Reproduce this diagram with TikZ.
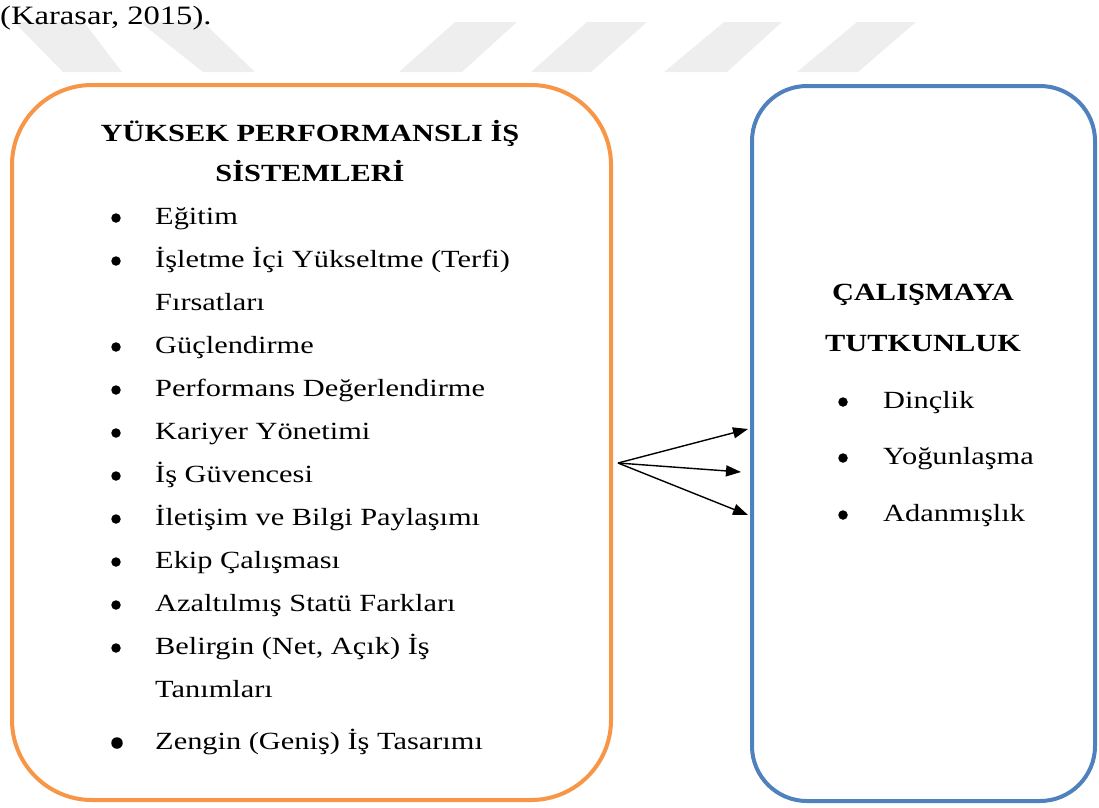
\documentclass[tikz,border=0pt]{standalone}
\usepackage{fontspec}
\setmainfont{Liberation Serif}[FakeStretch=1.23]
\usetikzlibrary{arrows.meta,positioning}
\definecolor{BoxOrange}{HTML}{F79646}
\definecolor{BoxBlue}{HTML}{4F81BD}
\definecolor{MarkGray}{HTML}{EEEEEE}
\newcommand{\twoline}[2]{\begin{tabular}[t]{@{}l@{}}#1\\#2\end{tabular}}

\begin{document}
\begin{tikzpicture}[
    x=1pt, y=-1pt,
    box/.style={rectangle,line width=4pt,inner sep=0pt},
    bul/.style={circle,fill=black,inner sep=0pt,minimum size=9.5pt},
    itm/.style={anchor=base west,inner sep=0pt,font=\fontsize{24.7}{43}\selectfont},
    ttl/.style={anchor=base,align=center,inner sep=0pt,font=\fontsize{24.7}{40}\selectfont\bfseries},
    wm/.style={fill=MarkGray},
    >={Triangle[length=15pt,width=11pt]},
  ]
  \useasboundingbox (0,0) rectangle (1099,807);
  % watermark stripes
  \fill[wm] (14,22) -- (84,22) -- (122,72) -- (63,72) -- cycle;
  \fill[wm] (140,22) -- (203,22) -- (255,72) -- (203,72) -- cycle;
  \fill[wm] (455,22) -- (517,22) -- (462,72) -- (399,72) -- cycle;
  \fill[wm] (587,22) -- (647,22) -- (591,72) -- (531,72) -- cycle;
  \fill[wm] (724,22) -- (782,22) -- (727,72) -- (664,72) -- cycle;
  \fill[wm] (857,22) -- (916,22) -- (858,72) -- (797,72) -- cycle;
  \node[itm,font=\fontsize{26.5}{30}\selectfont] (ref) at (0,24) {(Karasar, 2015).};
  % Left box - high performance work systems
  \node[box,draw=BoxOrange,rounded corners=80pt,minimum width=599pt,minimum height=715pt] (hpws) at (311.5,442.5) {};
  \node[ttl] (hpwsT) at (310,181) {YÜKSEK PERFORMANSLI İŞ\\SİSTEMLERİ};
  \node[bul] (b1) at (116,218) {};  \node[itm] (i1) at (155,224) {Eğitim};
  \node[bul] (b2) at (116,261) {};  \node[itm] (i2) at (155,267) {\twoline{İşletme İçi Yükseltme (Terfi)}{Fırsatları}};
  \node[bul] (b3) at (116,347) {};  \node[itm] (i3) at (155,353) {Güçlendirme};
  \node[bul] (b4) at (116,390) {};  \node[itm] (i4) at (155,396) {Performans Değerlendirme};
  \node[bul] (b5) at (116,433) {};  \node[itm] (i5) at (155,439) {Kariyer Yönetimi};
  \node[bul] (b6) at (116,476) {};  \node[itm] (i6) at (155,482) {İş Güvencesi};
  \node[bul] (b7) at (116,519) {};  \node[itm] (i7) at (155,525) {İletişim ve Bilgi Paylaşımı};
  \node[bul] (b8) at (116,562) {};  \node[itm] (i8) at (155,568) {Ekip Çalışması};
  \node[bul] (b9) at (116,605) {};  \node[itm] (i9) at (155,611) {Azaltılmış Statü Farkları};
  \node[bul] (b10) at (116,648) {}; \node[itm] (i10) at (155,654) {\twoline{Belirgin (Net, Açık) İş}{Tanımları}};
  \node[bul,minimum size=11.5pt] (b11) at (117,743) {}; \node[itm] (i11) at (155,749) {Zengin (Geniş) İş Tasarımı};
  % Right box - work engagement
  \node[box,draw=BoxBlue,rounded corners=55pt,minimum width=343pt,minimum height=715pt] (tutku) at (923.5,443.5) {};
  \node[ttl,font=\fontsize{24.7}{51}\selectfont\bfseries] (tutkuT) at (923,351) {ÇALIŞMAYA\\TUTKUNLUK};
  \node[bul] (r1) at (843,402) {}; \node[itm] (j1) at (883,408) {Dinçlik};
  \node[bul] (r2) at (843,458) {}; \node[itm] (j2) at (883,464) {Yoğunlaşma};
  \node[bul] (r3) at (843,515) {}; \node[itm] (j3) at (883,521) {Adanmışlık};
  % Arrows between the boxes
  \coordinate (src) at (618,463);
  \coordinate (t1) at (748,429);
  \coordinate (t2) at (741,472);
  \coordinate (t3) at (748,515);
  \draw[->,line width=1.4pt] (src) -- (t1);
  \draw[->,line width=1.4pt] (src) -- (t2);
  \draw[->,line width=1.4pt] (src) -- (t3);
\end{tikzpicture}
\end{document}
